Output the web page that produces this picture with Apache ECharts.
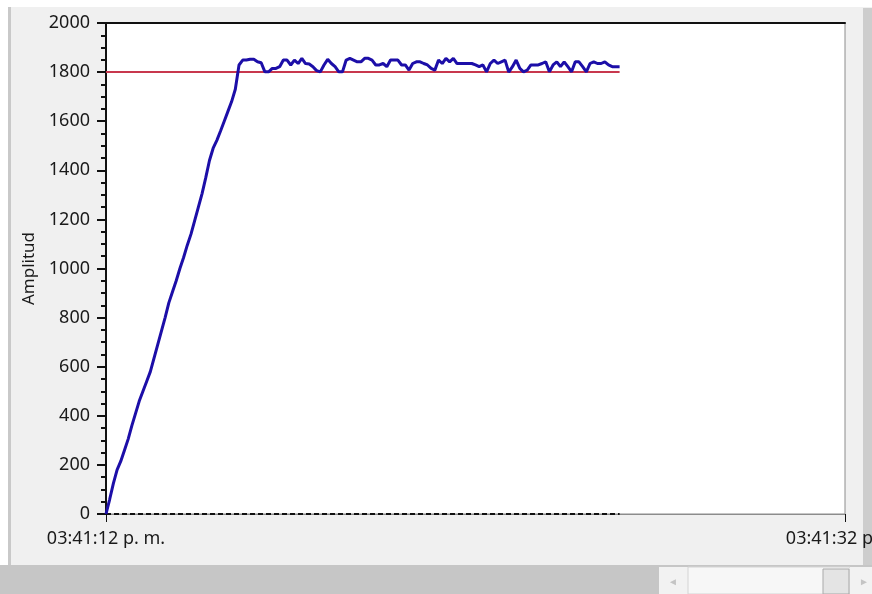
<!DOCTYPE html>
<html>
<head>
<meta charset="utf-8">
<script src="https://cdn.jsdelivr.net/npm/echarts@6/dist/echarts.min.js"></script>
<style>
html,body{margin:0;padding:0;background:#f0f0f0;}
#chart{width:872px;height:594px;}
</style>
</head>
<body>
<div id="chart"></div>
<script>
// ---- data ----
const SAMPLE_DT = 0.1;               // seconds between samples
const xTickLabels = ["03:41:12 p. m.", "03:41:32 p. m."]; // at 0 s and 20 s
const X_MAX = 20;
const yTicks = [0, 200, 400, 600, 800, 1000, 1200, 1400, 1600, 1800, 2000];
const SETPOINT = 1800;
const amplitude = [
  0,60,125,180,215,260,305,360,410,460,500,540,580,635,690,745,800,860,905,950,
  1000,1045,1095,1140,1195,1250,1305,1370,1440,1490,1522,1560,1600,1640,1680,1730,
  1829,1849,1849,1852,1852,1842,1838,1801,1801,1815,1815,1822,1849,1849,1829,1849,1835,1856,1835,1833,1822,1806,1801,1829,1852,
  1835,1822,1801,1801,1849,1856,1849,1842,1842,1856,1856,1849,1829,1829,1835,1822,1849,1849,1849,1829,1829,1808,1835,1842,1842,
  1835,1829,1815,1808,1849,1835,1856,1842,1856,1835,1835,1835,1835,1835,1829,1822,1829,1801,1835,1849,1835,1842,1849,1800,1822,1849,
  1815,1801,1808,1829,1829,1829,1835,1842,1801,1829,1842,1822,1842,1822,1801,1842,1842,1822,1801,1835,1842,1835,1835,1842,1829,1822,1822,1822
];

// ---- build series data ----
const ampData = amplitude.map((v, i) => [+(i * SAMPLE_DT).toFixed(2), v]);
const tEnd = ampData[ampData.length - 1][0];
const setData = [[0, SETPOINT], [tEnd, SETPOINT]];
const zeroData = [[0, 0], [tEnd, 0]];

const FONT = "'Noto Sans', 'DejaVu Sans', sans-serif";
const chart = echarts.init(document.getElementById('chart'), null, {renderer: 'canvas'});
chart.setOption({
  backgroundColor: '#f0f0f0',
  animation: false,
  grid: {
    left: 106, right: 27, top: 23, bottom: 80,
    containLabel: false, outerBoundsMode: 'none',
    show: true, backgroundColor: '#ffffff', borderColor: '#8c8c8c', borderWidth: 1
  },
  xAxis: [{
    type: 'value', min: 0, max: X_MAX, interval: X_MAX,
    axisLine: {show: true, onZero: false, lineStyle: {color: '#8c8c8c', width: 1}},
    axisTick: {show: true, length: 8, lineStyle: {color: '#111', width: 1}},
    axisLabel: {
      margin: 16, color: '#1a1a1a', fontSize: 18, fontFamily: FONT,
      alignMinLabel: 'center', alignMaxLabel: 'center', hideOverlap: false,
      formatter: v => v === 0 ? xTickLabels[0] : (v === X_MAX ? xTickLabels[1] : '')
    },
    splitLine: {show: false}
  }, {
    type: 'value', position: 'top', min: 0, max: X_MAX,
    axisLine: {show: true, onZero: false, lineStyle: {color: '#111', width: 2}},
    axisTick: {show: false}, axisLabel: {show: false}, splitLine: {show: false}
  }],
  yAxis: {
    type: 'value', min: yTicks[0], max: yTicks[yTicks.length - 1], interval: 200,
    name: 'Amplitud', nameLocation: 'middle', nameGap: 64, nameRotate: 90,
    nameTextStyle: {color: '#1a1a1a', fontSize: 17, fontFamily: FONT},
    axisLine: {show: true, onZero: false, lineStyle: {color: '#111', width: 2}},
    axisTick: {show: true, length: 9, lineStyle: {color: '#111', width: 2}},
    minorTick: {show: true, splitNumber: 4, length: 5, lineStyle: {color: '#111', width: 2}},
    axisLabel: {margin: 16, color: '#1a1a1a', fontSize: 18, fontFamily: FONT, formatter: v => String(v)},
    splitLine: {show: false}
  },
  series: [{
    type: 'line', data: zeroData, symbol: 'none', z: 3,
    lineStyle: {color: '#111', width: 2, type: [5, 3]}
  }, {
    type: 'line', data: setData, symbol: 'none', z: 4,
    lineStyle: {color: '#c8384e', width: 2}
  }, {
    type: 'line', data: ampData, symbol: 'none', z: 5,
    lineStyle: {color: '#1c0ea8', width: 3}
  }],
  graphic: [
    {type: 'rect', shape: {x: 0, y: 0, width: 872, height: 7}, style: {fill: '#ffffff'}, silent: true},
    {type: 'rect', shape: {x: 0, y: 0, width: 8, height: 566}, style: {fill: '#ffffff'}, silent: true},
    {type: 'rect', shape: {x: 8, y: 7, width: 3, height: 559}, style: {fill: '#c9c9c9'}, silent: true},
    {type: 'rect', shape: {x: 863, y: 8, width: 9, height: 558}, style: {fill: '#cdcdcd'}, silent: true},
    {type: 'rect', shape: {x: 0, y: 565, width: 872, height: 29}, style: {fill: '#c6c6c6'}, silent: true},
    {type: 'rect', shape: {x: 659, y: 567, width: 29, height: 27}, style: {fill: '#f2f2f2'}, silent: true},
    {type: 'text', style: {text: '◄', x: 673, y: 582, fill: '#c4c4c4', fontSize: 10, align: 'center', verticalAlign: 'middle'}, silent: true},
    {type: 'rect', shape: {x: 688, y: 567, width: 162, height: 27}, style: {fill: '#f7f7f7', stroke: '#d4d4d4', lineWidth: 1}, silent: true},
    {type: 'rect', shape: {x: 823, y: 569, width: 26, height: 25}, style: {fill: '#e4e4e4', stroke: '#a9a9a9', lineWidth: 1}, silent: true},
    {type: 'rect', shape: {x: 850, y: 567, width: 22, height: 27}, style: {fill: '#f2f2f2'}, silent: true},
    {type: 'text', style: {text: '►', x: 864, y: 582, fill: '#c4c4c4', fontSize: 10, align: 'center', verticalAlign: 'middle'}, silent: true}
  ]
});
</script>
</body>
</html>
